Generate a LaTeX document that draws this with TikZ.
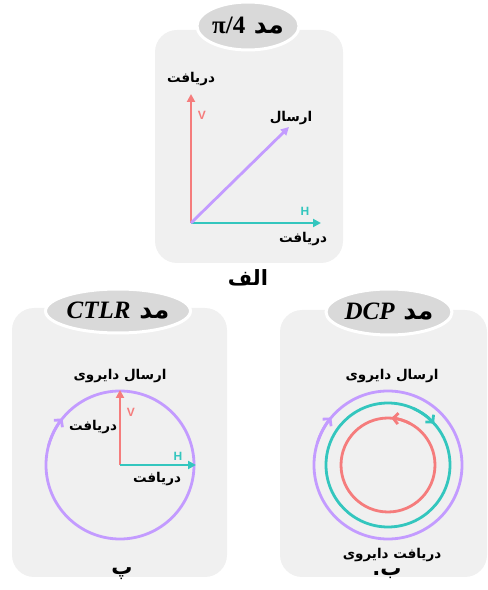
\documentclass[tikz,border=0pt]{standalone}
\usepackage{fontspec}
\setmainfont{Liberation Serif}
\setsansfont{Liberation Sans}
\newfontfamily\fa[Script=Arabic]{DejaVu Sans}
\TeXXeTstate=1
\usetikzlibrary{arrows.meta,positioning,shapes.geometric}
\definecolor{pvio}{HTML}{C39BFF}
\definecolor{pred}{HTML}{F57C7C}
\definecolor{pteal}{HTML}{33C6BE}
\definecolor{pback}{HTML}{F0F0F0}
\definecolor{ptitle}{HTML}{D9D9D9}

\tikzset{
  panel/.style={fill=pback, rounded corners=22pt},
  titlebox/.style={ellipse, fill=ptitle, draw=white, line width=3pt, inner sep=0pt,
    font=\bfseries\fontsize{25}{27}\selectfont},
  lab/.style={font=\fa\bfseries\fontsize{13.5}{15}\selectfont, inner sep=1pt},
  letter/.style={font=\fa\bfseries\fontsize{21}{23}\selectfont, inner sep=1pt},
  pol/.style={font=\sffamily\bfseries\fontsize{12}{13}\selectfont, inner sep=1pt},
  axis/.style={line width=2.8pt, -{Triangle[length=8pt,width=8pt]}},
  ring/.style={line width=2.8pt},
  turn/.style={line width=2.8pt, -{Straight Barb[length=5pt,width=11pt]}}
}

\begin{document}
\begin{tikzpicture}[x=1pt, y=1pt]
  \useasboundingbox (0,0) rectangle (488,590);

  % Panels
  \fill[panel] (155,327) rectangle (343,560);
  \fill[panel] (12,13) rectangle (227,282);
  \fill[panel] (280,13) rectangle (487,280);

  % Titles
  \node[titlebox, minimum width=102pt, minimum height=48pt] (tA) at (248,564)
    {\fa\beginR مد \beginL\rmfamily π/4\endL\endR};
  \node[titlebox, minimum width=120pt, minimum height=44pt] (tB) at (118,279)
    {\fa\beginR مد \beginL\rmfamily\itshape CTLR\endL\endR};
  \node[titlebox, minimum width=126pt, minimum height=46pt] (tC) at (389,278)
    {\fa\beginR مد \beginL\rmfamily\itshape DCP\endL\endR};

  % pi/4 mode
  \coordinate (oA) at (191,367);
  \coordinate (vA) at (191,496);
  \coordinate (hA) at (321,367);
  \coordinate (sA) at (289,463);
  \draw[axis, pred] (oA) -- (vA);
  \draw[axis, pteal] (oA) -- (hA);
  \draw[axis, pvio] (oA) -- (sA);
  \node[lab] (rvA) at (191,511) {\beginR دریافت\endR};
  \node[pol, text=pred] (VA) at (202,475) {V};
  \node[lab] (snA) at (291,472) {\beginR ارسال\endR};
  \node[pol, text=pteal] (HA) at (305,379) {H};
  \node[lab] (rhA) at (303,351) {\beginR دریافت\endR};
  \node[letter] (capA) at (248,312) {\beginR الف\endR};

  % CTLR mode
  \coordinate (oB) at (120,125);
  \coordinate (vB) at (120,200);
  \coordinate (hB) at (196,125);
  \draw[ring, pvio] (oB) circle[radius=74];
  \draw[turn, pvio] (oB) ++(165:74) arc[start angle=165, end angle=141, radius=74];
  \draw[axis, pred] (oB) -- (vB);
  \draw[axis, pteal] (oB) -- (hB);
  \node[lab] (snB) at (120,214) {\beginR ارسال دایروی\endR};
  \node[pol, text=pred] (VB) at (131,178) {V};
  \node[lab] (rvB) at (93,163) {\beginR دریافت\endR};
  \node[pol, text=pteal] (HB) at (178,134) {H};
  \node[lab] (rhB) at (157,111) {\beginR دریافت\endR};
  \node[letter] (capB) at (122,16) {\beginR پ\endR};

  % DCP mode
  \coordinate (oC) at (388,125);
  \draw[ring, pvio] (oC) circle[radius=74];
  \draw[ring, pteal] (oC) circle[radius=62];
  \draw[ring, pred] (oC) circle[radius=47];
  \draw[turn, pvio] (oC) ++(163:74) arc[start angle=163, end angle=140, radius=74];
  \draw[turn, pteal] (oC) ++(66:62) arc[start angle=66, end angle=42, radius=62];
  \draw[turn, pred] (oC) ++(62:47) arc[start angle=62, end angle=86, radius=47];
  \node[lab] (snC) at (392,214) {\beginR ارسال دایروی\endR};
  \node[lab] (rcC) at (392,35) {\beginR دریافت دایروی\endR};
  \node[letter] (capC) at (387,16) {\beginR ب.\endR};
\end{tikzpicture}
\end{document}
